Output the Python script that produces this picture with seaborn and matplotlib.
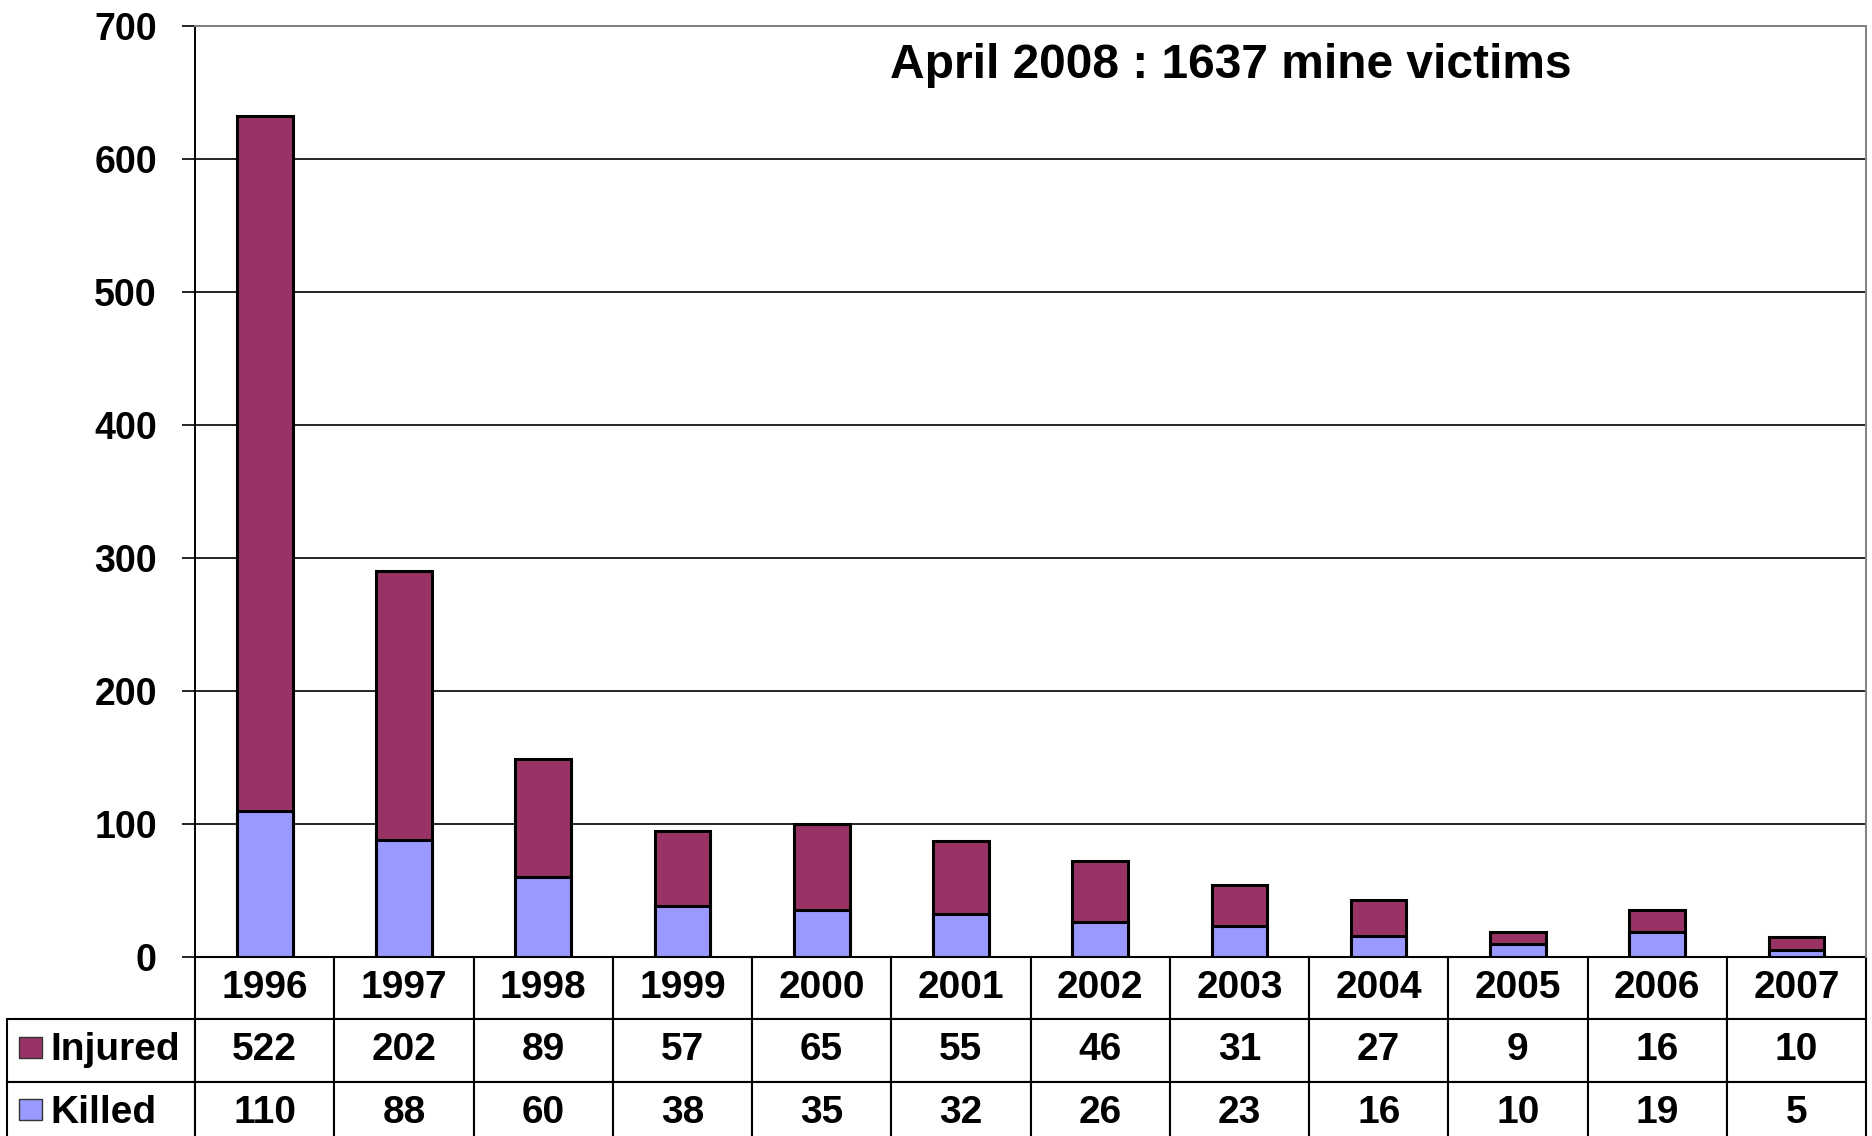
import pandas as pd
import seaborn as sns
import matplotlib.pyplot as plt
from matplotlib.table import Table
from matplotlib.patches import Rectangle

# data
years = ["1996", "1997", "1998", "1999", "2000", "2001",
         "2002", "2003", "2004", "2005", "2006", "2007"]
injured = [522, 202, 89, 57, 65, 55, 46, 31, 27, 9, 16, 10]
killed = [110, 88, 60, 38, 35, 32, 26, 23, 16, 10, 19, 5]
series = ["Injured", "Killed"]
colors = {"Injured": "#993366", "Killed": "#9999FF"}
title = "April 2008 : 1637 mine victims"

df = pd.DataFrame({"year": years, "injured": injured, "killed": killed})
df["total"] = df["injured"] + df["killed"]

sns.set_theme(style="white")
plt.rcParams["font.family"] = ["Liberation Sans", "DejaVu Sans"]
plt.rcParams["text.color"] = "black"
plt.rcParams["ytick.color"] = "black"
plt.rcParams["xtick.color"] = "black"

fig = plt.figure(figsize=(18.72, 11.36), dpi=100)
ax = fig.add_axes([0.1042, 0.1576, 0.8926, 0.8195])

# stacked bars: total first (injured colour), then killed on top of it
sns.barplot(data=df, x="year", y="total", order=years, color=colors["Injured"],
            saturation=1, width=0.4, edgecolor="black", linewidth=2.2, ax=ax)
sns.barplot(data=df, x="year", y="killed", order=years, color=colors["Killed"],
            saturation=1, width=0.4, edgecolor="black", linewidth=2.2, ax=ax)

ax.set_ylim(0, 700)
ax.set_xlim(-0.5, len(years) - 0.5)
ax.set_yticks(range(0, 701, 100))
ax.set_xticks([])
ax.set_xlabel("")
ax.set_ylabel("")
ax.yaxis.grid(True, color="black", linewidth=1.2)
ax.set_axisbelow(True)
ax.tick_params(axis="y", left=True, length=9.5, width=1.2, pad=18,
               labelsize=27, color="black", labelcolor="black")
for lbl in ax.get_yticklabels():
    lbl.set_fontweight("bold")
ax.spines["left"].set_color("black")
ax.spines["left"].set_linewidth(1.4)
ax.spines["top"].set_color("#808080")
ax.spines["right"].set_color("#808080")
ax.spines["bottom"].set_visible(False)
for sp in ["top", "right"]:
    ax.spines[sp].set_linewidth(1.4)

ax.text(0.416, 0.958, title, transform=ax.transAxes, ha="left", va="center",
        fontsize=34.5, fontweight="bold", color="black")

# data table under the chart (bbox covers the year columns, labels hang left)
tb = Table(ax, bbox=[0.0, -0.2009, 1.0, 0.2009])
cw = 1.0 / len(years)
rh = 0.067
for j, y in enumerate(years):
    tb.add_cell(0, j, width=cw, height=rh, text=y, loc="center")
    tb.add_cell(1, j, width=cw, height=rh, text=str(injured[j]), loc="center")
    tb.add_cell(2, j, width=cw, height=rh, text=str(killed[j]), loc="center")
for i, name in enumerate(series):
    c = tb.add_cell(i + 1, -1, width=0.1125, height=rh, text=name, loc="left")
    c.PAD = 0.229
tb.auto_set_font_size(False)
tb.set_fontsize(28)
for cell in tb.get_celld().values():
    cell.set_edgecolor("black")
    cell.set_linewidth(1.5)
    cell.get_text().set_fontweight("bold")
    cell.get_text().set_color("black")
tb.set_clip_on(False)
ax.add_table(tb)

# legend squares in the row label cells
for i, name in enumerate(series):
    y0 = -0.1085 - i * 0.0666
    ax.add_patch(Rectangle((-0.1053, y0), 0.0138, 0.0226, transform=ax.transAxes,
                           facecolor=colors[name], edgecolor="#333333",
                           linewidth=1.0, clip_on=False))

fig.savefig("out.png", dpi=100, facecolor="white")
